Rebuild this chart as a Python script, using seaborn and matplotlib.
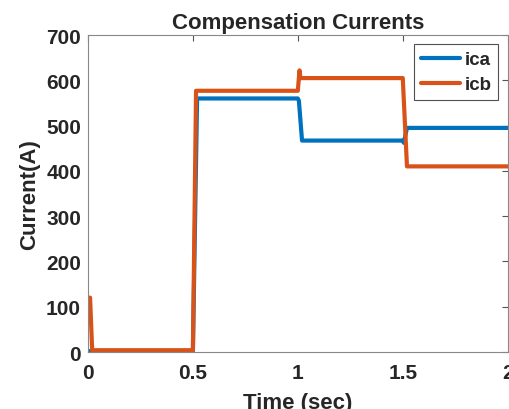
import numpy as np
import pandas as pd
import matplotlib
matplotlib.use('Agg')
from matplotlib import pyplot as plt
import seaborn as sns

# Step-like currents
t_ica = [0.0, 0.02, 0.5, 0.52, 1.0, 1.005, 1.02, 1.5, 1.505, 1.52, 2.0]
ica = [2, 2, 2, 560, 560, 555, 467, 467, 462, 495, 495]

t_icb = [0.0, 0.01, 0.02, 0.5, 0.515, 1.0, 1.004, 1.008, 1.012, 1.5, 1.52, 2.0]
icb = [120, 120, 4, 4, 577, 577, 600, 622, 605, 605, 410, 410]

df = pd.concat([
    pd.DataFrame({'Time': t_ica, 'Current': ica, 'Signal': 'ica'}),
    pd.DataFrame({'Time': t_icb, 'Current': icb, 'Signal': 'icb'}),
])

sns.set_style('white')
plt.rcParams['font.family'] = ['Liberation Sans', 'DejaVu Sans']
plt.rcParams['font.weight'] = 'bold'

fig = plt.figure(figsize=(5.1, 4.1), dpi=100)
ax = fig.add_axes([0.1725, 0.139, 0.823, 0.773])

sns.lineplot(data=df, x='Time', y='Current', hue='Signal',
             palette={'ica': '#0072BD', 'icb': '#D95319'},
             linewidth=3, ax=ax, estimator=None, sort=False)

ax.set_xlim(0, 2)
ax.set_ylim(0, 700)
ax.set_xticks([0, 0.5, 1, 1.5, 2])
ax.set_xticklabels(['0', '0.5', '1', '1.5', '2'])
ax.set_yticks(range(0, 701, 100))
ax.tick_params(direction='in', length=4, width=0.8, color='#555555',
               labelsize=15, top=True, right=True)
ax.tick_params(axis='y', pad=5)
ax.tick_params(axis='x', pad=8)
for lab in ax.get_xticklabels() + ax.get_yticklabels():
    lab.set_fontweight('bold')
    lab.set_color('#262626')
for sp in ax.spines.values():
    sp.set_color('#888888')
    sp.set_linewidth(0.8)

ax.set_title('Compensation Currents', fontsize=16, fontweight='bold', pad=5)
ax.set_xlabel('Time (sec)', fontsize=16, fontweight='bold', labelpad=7)
ax.set_ylabel('Current(A)', fontsize=16, fontweight='bold', labelpad=4)

leg = ax.legend(loc='upper right', fontsize=13.5, frameon=True, fancybox=False,
                handlelength=2.1, handletextpad=0.25, borderpad=0.35,
                labelspacing=0.42, borderaxespad=0.5)
leg.get_frame().set_edgecolor('#262626')
leg.get_frame().set_linewidth(0.8)
for txt in leg.get_texts():
    txt.set_fontweight('bold')
for line in leg.get_lines():
    line.set_linewidth(3)

fig.savefig('out.png', dpi=100)
